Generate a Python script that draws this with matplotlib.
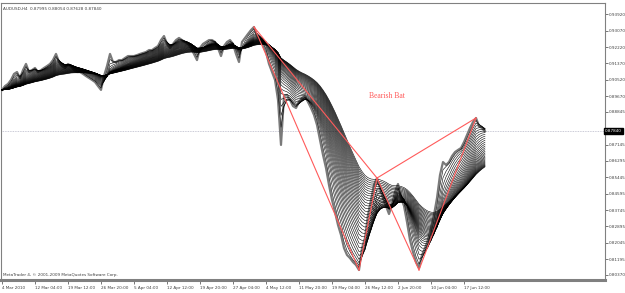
# -*- coding: utf-8 -*-
# AUDUSD H4 chart with a moving average ribbon and a bearish bat pattern (MT4 look)
import numpy as np
import matplotlib.pyplot as plt

# closes, one value every 4 bars
close = [0.8999, 0.9019, 0.9030, 0.9051, 0.9082, 0.9092, 0.9061, 0.9102, 0.9134, 0.9092,
         0.9102, 0.9113, 0.9092, 0.9102, 0.9113, 0.9123, 0.9134, 0.9154, 0.9186, 0.9144,
         0.9123, 0.9113, 0.9134, 0.9123, 0.9102, 0.9092, 0.9092, 0.9082, 0.9071, 0.9061,
         0.9051, 0.9040, 0.9019, 0.8999, 0.9071, 0.9123, 0.9186, 0.9144, 0.9144, 0.9154,
         0.9154, 0.9165, 0.9175, 0.9175, 0.9175, 0.9180, 0.9186, 0.9191, 0.9196, 0.9206,
         0.9206, 0.9217, 0.9227, 0.9258, 0.9279, 0.9238, 0.9217, 0.9238, 0.9258, 0.9269,
         0.9258, 0.9248, 0.9238, 0.9217, 0.9186, 0.9154, 0.9217, 0.9238, 0.9248, 0.9258,
         0.9258, 0.9248, 0.9217, 0.9175, 0.9227, 0.9248, 0.9258, 0.9238, 0.9186, 0.9144,
         0.9248, 0.9269, 0.9290, 0.9310, 0.9326, 0.9279, 0.9258, 0.9232, 0.9196, 0.9134,
         0.9092, 0.9051, 0.8947, 0.8713, 0.8967, 0.8973, 0.8947, 0.8915, 0.8905, 0.8936,
         0.8957, 0.8967, 0.8936, 0.8905, 0.8869, 0.8817, 0.8739, 0.8661, 0.8593, 0.8505,
         0.8427, 0.8364, 0.8297, 0.8245, 0.8177, 0.8141, 0.8125, 0.8104, 0.8089, 0.8063,
         0.8177, 0.8229, 0.8349, 0.8427, 0.8505, 0.8541, 0.8489, 0.8437, 0.8396, 0.8354,
         0.8401, 0.8468, 0.8510, 0.8437, 0.8396, 0.8312, 0.8219, 0.8156, 0.8104, 0.8073,
         0.8141, 0.8177, 0.8219, 0.8281, 0.8349, 0.8437, 0.8557, 0.8624, 0.8609, 0.8624,
         0.8655, 0.8676, 0.8687, 0.8697, 0.8728, 0.8765, 0.8801, 0.8832, 0.8853, 0.8811,
         0.8801, 0.8784]

date_labels = ['4 Mar 2010', '12 Mar 04:00', '19 Mar 12:00', '26 Mar 20:00', '5 Apr 04:00',
               '12 Apr 12:00', '19 Apr 20:00', '27 Apr 04:00', '4 May 12:00', '11 May 20:00',
               '19 May 04:00', '26 May 12:00', '2 Jun 20:00', '10 Jun 04:00', '17 Jun 12:00']
label_step = 11

price_ticks = [0.93920, 0.93070, 0.92220, 0.91370, 0.90520, 0.89670, 0.88845, 0.87145,
               0.86295, 0.85445, 0.84595, 0.83745, 0.82895, 0.82045, 0.81195, 0.80370]
last_price = 0.87840
header = 'AUDUSD,H4  0.87995 0.88054 0.87628 0.87840'

# bearish bat points X, A, B, C, D
bat_idx = [84, 119, 125, 139, 158]
bat_price = [0.9326, 0.8063, 0.8541, 0.8063, 0.8853]

spans = np.arange(2, 34, 1.0)   # ribbon of EMAs

close = np.array(close)
x = np.arange(len(close))

fig = plt.figure(figsize=(6.25, 2.93), dpi=100)
ax = fig.add_axes([1/625, 13/293, 604/625, 277/293])

ax.plot(x, close, color='#7a7a7a', lw=1.6, zorder=2)

for s in spans:
    a = 2.0 / (s + 1)
    ema = np.empty_like(close)
    ema[0] = close[0]
    for i in range(1, len(close)):
        ema[i] = a * close[i] + (1 - a) * ema[i-1]
    ax.plot(x, ema, color='black', lw=0.4, zorder=3)

# pattern: triangles XAB and BCD
red = '#ff5a5a'
for p, q in [(0, 1), (1, 2), (0, 2), (2, 3), (3, 4), (2, 4)]:
    ax.plot([bat_idx[p], bat_idx[q]], [bat_price[p], bat_price[q]], color=red, lw=0.8, zorder=4)
ax.text(122.3, 0.8968, 'Bearish Bat', color=red, fontsize=5.5, family='Liberation Serif',
        va='center', ha='left')

ax.axhline(last_price, color='#b8b8c8', lw=0.6, ls=(0, (1, 1)), zorder=1)

ax.set_xlim(-1/3, 201)
ax.set_ylim(0.80110, 0.94507)

ax.yaxis.tick_right()
ax.set_yticks(price_ticks)
ax.set_yticklabels(['%.5f' % v for v in price_ticks])
ax.tick_params(axis='y', length=2, width=0.5, pad=1, labelsize=3.0, colors='#404040')
ax.set_xticks(np.arange(len(date_labels)) * label_step)
ax.set_xticklabels(date_labels, ha='left')
ax.tick_params(axis='x', length=3, width=0.5, pad=1.5, labelsize=3.0, colors='#404040')

ax.text(1.0, last_price, '%.5f' % last_price, transform=ax.get_yaxis_transform(),
        fontsize=3.0, color='white', va='center', ha='left',
        bbox=dict(facecolor='black', edgecolor='black', pad=0.6))

for side in ['top', 'left', 'right']:
    ax.spines[side].set_color('#808080')
    ax.spines[side].set_linewidth(0.8)
ax.spines['bottom'].set_color('#808080')
ax.spines['bottom'].set_linewidth(2.2)

ax.text(0.003, 0.985, header, transform=ax.transAxes, fontsize=3.0, color='#404040',
        va='top', ha='left')
ax.text(0.003, 0.012, 'MetaTrader 4, \u00a9 2001-2009 MetaQuotes Software Corp.',
        transform=ax.transAxes, fontsize=3.0, color='#404040', va='bottom', ha='left')

fig.savefig('out.png', dpi=100)
